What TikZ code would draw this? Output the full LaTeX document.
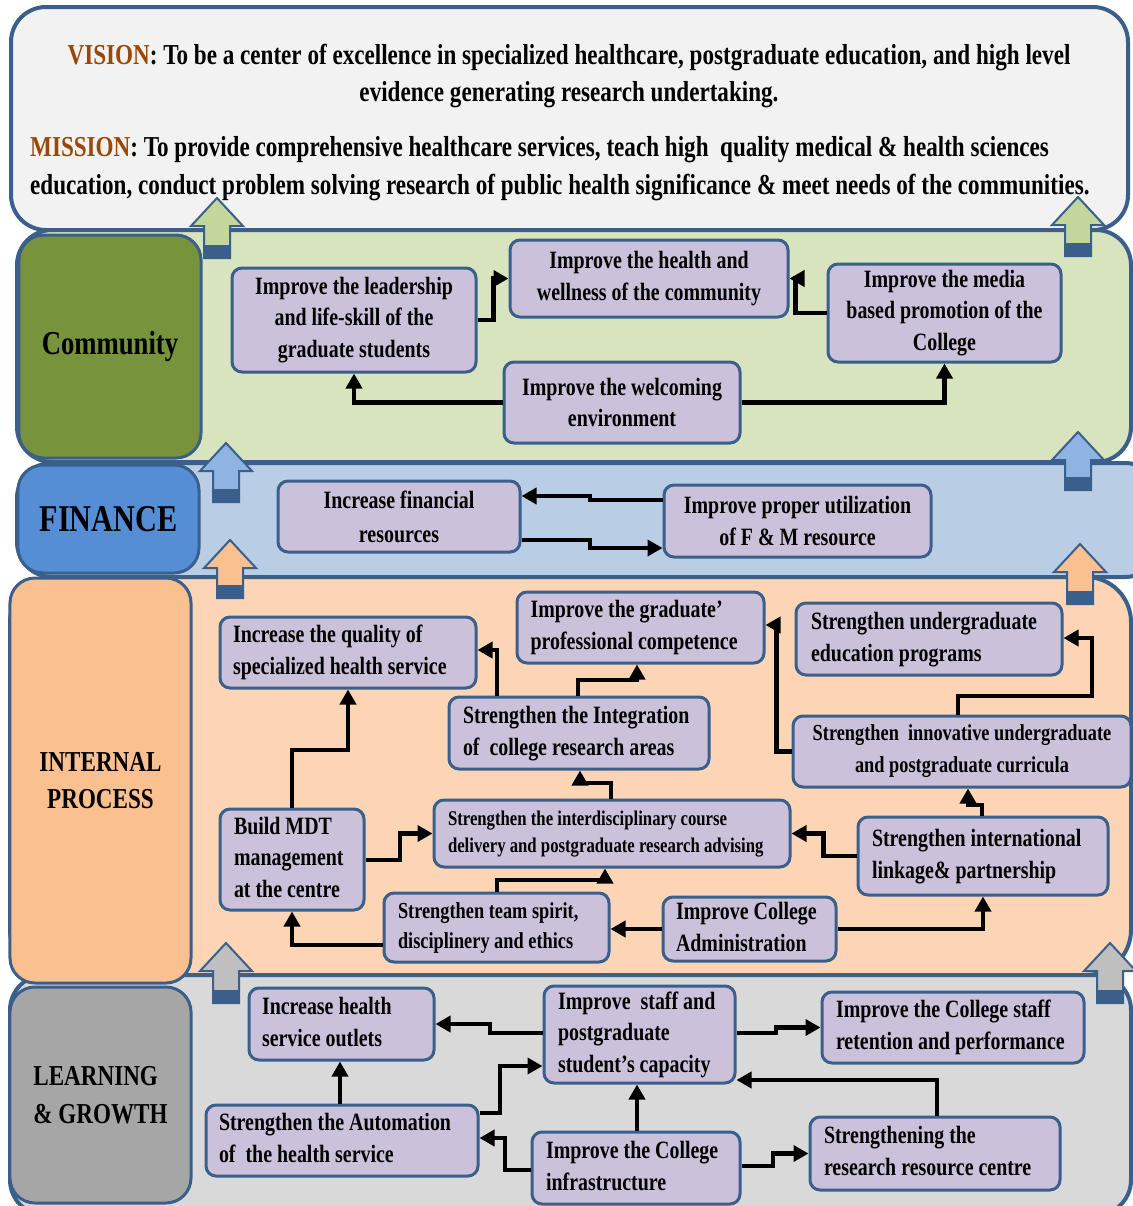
\documentclass[tikz,border=0pt]{standalone}
\usepackage{fontspec}
\setmainfont{Liberation Serif}[FakeStretch=0.8]
\usetikzlibrary{arrows.meta}
\definecolor{bord}{HTML}{3A5F8B}
\definecolor{visfill}{HTML}{F2F2F2}
\definecolor{grband}{HTML}{D7E4BD}
\definecolor{grlab}{HTML}{77933C}
\definecolor{grarr}{HTML}{C3D69B}
\definecolor{blband}{HTML}{B9CDE5}
\definecolor{bllab}{HTML}{558ED5}
\definecolor{blarr}{HTML}{8EB4E3}
\definecolor{orband}{HTML}{FCD5B5}
\definecolor{orlab}{HTML}{FAC090}
\definecolor{orarr}{HTML}{FAC090}
\definecolor{gyband}{HTML}{D9D9D9}
\definecolor{gylab}{HTML}{A6A6A6}
\definecolor{gyarr}{HTML}{BFBFBF}
\definecolor{pur}{HTML}{CCC1DA}
\definecolor{brn}{HTML}{984807}
\newcommand\fs[2]{\fontsize{#1}{#2}\selectfont\bfseries}
\newcommand\lines[1]{\begin{tabular}{@{}l@{}}#1\end{tabular}}
\newcommand\blockarrow[4]{%
  \filldraw[fill=#4, draw=bord, line width=2bp] (#1,#2) -- (#1+26,#2+28) -- (#1+13,#2+28) -- (#1+13,#3) -- (#1-13,#3) -- (#1-13,#2+28) -- (#1-26,#2+28) -- cycle;
  \fill[bord] (#1-13,#3-13) rectangle (#1+13,#3);}
\begin{document}
\begin{tikzpicture}[x=1bp,y=-1bp,
  box/.style={draw=bord, line width=3bp, fill=pur, rounded corners=10bp, inner sep=0pt, font=\fs{25}{32}},
  lbox/.style={box, align=flush left},
  lab/.style={draw=bord, line width=3bp, rounded corners=25bp, inner sep=0pt},
  conn/.style={line width=4.5bp, -{Triangle[length=15bp,width=16bp]}},
  band/.style={draw=bord, line width=4bp, rounded corners=35bp}]
\useasboundingbox (0,0) rectangle (1133,1206);
\begin{scope}
\clip (0,0) rectangle (1133,1206);
% bands
\filldraw[band, fill=visfill] (11,7) rectangle (1128,230);
\filldraw[band, fill=grband] (17,230) rectangle (1131,462);
\filldraw[band, fill=blband] (17,463) rectangle (1160,577);
\filldraw[band, fill=orband, rounded corners=45bp] (10,577) rectangle (1131,975);
\filldraw[band, fill=gyband] (10,975) rectangle (1131,1215);

% vision / mission
\node[font=\fs{29}{38}, align=center, inner sep=0pt] (vision) at (569,76)
  {\textcolor{brn}{VISION}: To be a center of excellence in specialized healthcare, postgraduate education, and high level\\evidence generating research undertaking.};
\node[font=\fs{29}{38}, align=left, inner sep=0pt, anchor=west] (mission) at (30,169)
  {\textcolor{brn}{MISSION}: To provide comprehensive healthcare services, teach high\ \ quality medical \& health sciences\\education, conduct problem solving research of public health significance \& meet needs of the communities.};

% perspective labels
\node[lab, fill=grlab, minimum width=182bp, minimum height=223bp, font=\fs{33.5}{40}] (community) at (110,346.5) {Community};
\node[lab, fill=bllab, minimum width=181bp, minimum height=108bp, font=\fs{38}{40}] (finance) at (108.5,519) {FINANCE};
\node[lab, fill=orlab, minimum width=181bp, minimum height=405bp, font=\fs{29}{37}, align=center] (internal) at (100.5,780.5) {INTERNAL\\PROCESS};
\node[lab, fill=gylab, minimum width=181bp, minimum height=216bp, font=\fs{29}{38}, align=left] (learning) at (100.5,1095) {LEARNING\\\& GROWTH};

% block arrows
\blockarrow{217}{198}{258}{grarr}
\blockarrow{1078}{197}{256}{grarr}
\blockarrow{226}{443}{502}{blarr}
\blockarrow{1078}{432}{490}{blarr}
\blockarrow{230}{540}{598}{orarr}
\blockarrow{1080}{544}{604}{orarr}
\blockarrow{226}{943}{1003}{gyarr}
\blockarrow{1110}{943}{1003}{gyarr}

% community
\node[box, minimum width=244bp, minimum height=104bp, align=center] (lead) at (354,320) {Improve the leadership\\and life-skill of the\\graduate students};
\node[box, minimum width=278bp, minimum height=77bp, align=center] (health) at (649,278.5) {Improve the health and\\wellness of the community};
\node[box, minimum width=233bp, minimum height=98bp, align=center] (media) at (944.5,313) {Improve the media\\based promotion of the\\College};
\node[box, minimum width=236bp, minimum height=81bp, align=center] (welcome) at (622,402.5) {Improve the welcoming\\environment};

% finance
\node[box, minimum width=242bp, minimum height=71bp, align=center, font=\fs{25}{34}] (incfin) at (399,516.5) {Increase financial\\resources};
\node[box, minimum width=267bp, minimum height=72bp, align=center] (util) at (797.5,521) {Improve proper utilization\\of F \& M resource};

% internal process
\node[lbox, minimum width=256bp, minimum height=71bp, text width=230bp] (quality) at (348,652.5) {\lines{Increase the quality of\\specialized health service}};
\node[lbox, minimum width=247bp, minimum height=71bp, text width=220bp] (gradcomp) at (640.5,627.5) {\lines{Improve the graduate’\\professional competence}};
\node[lbox, minimum width=266bp, minimum height=72bp, text width=236bp] (ugedu) at (929,639) {\lines{Strengthen undergraduate\\education programs}};
\node[lbox, minimum width=260bp, minimum height=72bp, text width=232bp] (integ) at (579,733) {\lines{Strengthen the Integration\\of\ \ college research areas}};
\node[box, minimum width=338bp, minimum height=71bp, align=center, font=\fs{23}{32}] (innov) at (962,751.5) {Strengthen\ \ innovative undergraduate\\and postgraduate curricula};
\node[lbox, minimum width=144bp, minimum height=101bp, text width=116bp] (mdt) at (292,859.5) {\lines{Build MDT\\management\\at the centre}};
\node[lbox, minimum width=356bp, minimum height=67bp, text width=328bp, font=\fs{21}{27}] (interd) at (612,833.5) {\lines{Strengthen the interdisciplinary course\\delivery and postgraduate research advising}};
\node[lbox, minimum width=250bp, minimum height=78bp, text width=222bp] (intl) at (983,856) {\lines{Strengthen international\\linkage\& partnership}};
\node[lbox, minimum width=225bp, minimum height=69bp, text width=197bp, font=\fs{23}{30}] (team) at (496.5,927.5) {\lines{Strengthen team spirit,\\disciplinery and ethics}};
\node[lbox, minimum width=173bp, minimum height=64bp, text width=147bp] (admin) at (749.5,929) {\lines{Improve College\\Administration}};

% learning & growth
\node[lbox, minimum width=185bp, minimum height=72bp, text width=159bp] (outlets) at (341.5,1024) {\lines{Increase health\\service outlets}};
\node[lbox, minimum width=191bp, minimum height=97bp, text width=163bp] (staff) at (639.5,1034.5) {\lines{Improve\ \ staff and\\postgraduate\\student’s capacity}};
\node[lbox, minimum width=262bp, minimum height=71bp, text width=234bp] (retention) at (953,1027.5) {\lines{Improve the College staff\\retention and performance}};
\node[lbox, minimum width=272bp, minimum height=71bp, text width=246bp] (autom) at (342,1140.5) {\lines{Strengthen the Automation\\of\ \ the health service}};
\node[lbox, minimum width=208bp, minimum height=72bp, text width=180bp] (infra) at (636,1168) {\lines{Improve the College\\infrastructure}};
\node[lbox, minimum width=250bp, minimum height=73bp, text width=222bp] (research) at (935,1153.5) {\lines{Strengthening the\\research resource centre}};

% connectors: community
\draw[conn] (lead.east) -- ++(16,0) |- (health.west);
\draw[conn] (media.west) -- ++(-31,0) |- (health.east);
\draw[conn] (welcome.west) -| (lead.south);
\draw[conn] (welcome.east) -| (media.south);
% finance
\draw[conn] (util.west |- 0,500) -- (590,500) |- (incfin.east |- 0,496);
\draw[conn] (incfin.east |- 0,540) -- (590,540) |- (util.west |- 0,548);
% internal
\draw[conn] (497,0 |- integ.north) |- (quality.east |- 0,650);
\draw[conn] (mdt.north) -- (mdt.north |- 0,750) -| (quality.south);
\draw[conn] (578,0 |- integ.north) -- (578,680) -| (637,0 |- gradcomp.south);
\draw[conn] (innov.west) -- ++(-15,0) |- (gradcomp.east |- 0,625);
\draw[conn] (958,0 |- innov.north) -- (958,696) -- (1092,696) |- (ugedu.east |- 0,638);
\draw[conn] (611,0 |- interd.north) -- (611,783) -| (580,0 |- integ.south);
\draw[conn] (mdt.east |- 0,860) -- (400,860) |- (interd.west);
\draw[conn] (intl.west) -- ++(-33,0) |- (interd.east);
\draw[conn] (982,0 |- intl.north) -- (982,805) -| (968,0 |- innov.south);
\draw[conn] (497,0 |- team.north) -- (497,880) -| (605,0 |- interd.south);
\draw[conn] (team.west |- 0,945) -| (mdt.south);
\draw[conn] (admin.west) -- (team.east |- admin.west);
\draw[conn] (admin.east) -| (intl.south);
% learning & growth
\draw[conn] (staff.west |- 0,1033) -- (490,1033) |- (outlets.east);
\draw[conn] (staff.east |- 0,1033) -- (776,1033) |- (retention.west);
\draw[conn] (340,0 |- autom.north) -- (340,0 |- outlets.south);
\draw[conn] (autom.east |- 0,1113) -- (500,1113) |- (staff.west |- 0,1066);
\draw[conn] (infra.west |- 0,1170) -- (505,1170) |- (autom.east |- 0,1138);
\draw[conn] (637,0 |- infra.north) -- (637,0 |- staff.south);
\draw[conn] (infra.east |- 0,1166) -- (773,1166) |- (research.west);
\draw[conn] (937,0 |- research.north) |- (staff.east |- 0,1080);
\end{scope}
\end{tikzpicture}
\end{document}
